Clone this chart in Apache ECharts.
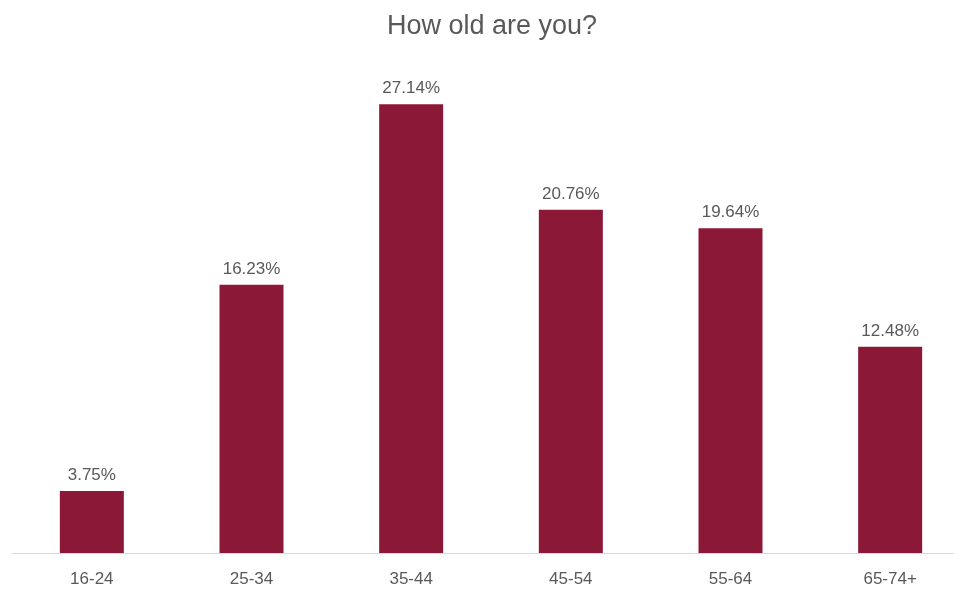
<!DOCTYPE html>
<html>
<head>
<meta charset="utf-8">
<script src="https://cdn.jsdelivr.net/npm/echarts@6/dist/echarts.min.js"></script>
<style>html,body{margin:0;padding:0;background:#fff;}#chart{width:954px;height:592px;}</style>
</head>
<body>
<div id="chart"></div>
<script>
const titleText = "How old are you?";
const categories = ["16-24", "25-34", "35-44", "45-54", "55-64", "65-74+"];
const values = [3.75, 16.23, 27.14, 20.76, 19.64, 12.48];

const chart = echarts.init(document.getElementById('chart'), null, {renderer: 'canvas'});
chart.setOption({
  backgroundColor: '#ffffff',
  animation: false,
  title: {
    text: titleText,
    left: 382,
    top: 8,
    textStyle: {fontFamily: 'Liberation Sans', fontSize: 27, fontWeight: 'normal', color: '#595959'}
  },
  grid: {left: 12, top: 57, width: 958, height: 496, containLabel: false, outerBoundsMode: 'none'},
  xAxis: {
    type: 'category',
    data: categories,
    axisLine: {lineStyle: {color: '#d9d9d9', width: 1}},
    axisTick: {show: false},
    axisLabel: {fontFamily: 'Liberation Sans', fontSize: 17, color: '#595959', margin: 18}
  },
  yAxis: {
    type: 'value',
    min: 0, max: 30, interval: 5,
    show: false,
    splitLine: {show: false}
  },
  series: [{
    type: 'bar',
    data: values,
    barWidth: 64,
    itemStyle: {color: '#8C1838'},
    label: {
      show: true,
      position: 'top',
      distance: 7,
      fontFamily: 'Liberation Sans',
      fontSize: 17,
      color: '#595959',
      formatter: p => p.value.toFixed(2) + '%'
    }
  }]
});
</script>
</body>
</html>
